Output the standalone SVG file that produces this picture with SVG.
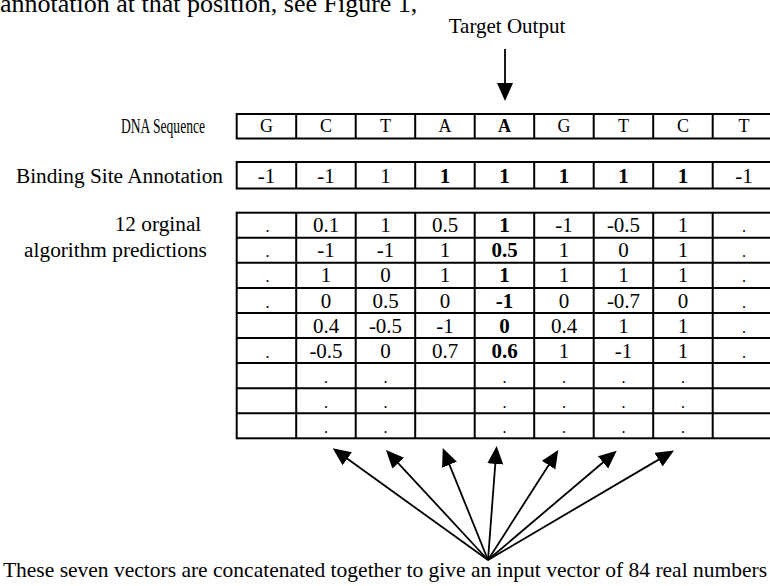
<svg xmlns="http://www.w3.org/2000/svg" width="770" height="586" viewBox="0 0 770 586">
<style>
text{font-family:"Liberation Serif","Times New Roman",serif;fill:#000}
.c{font-size:21px;text-anchor:middle}
.d{font-size:18px;text-anchor:middle}
.s{font-size:16px;text-anchor:middle}
.b{font-weight:bold}
.lbl{font-size:21.3px}
.grid{fill:none;stroke:#000;stroke-width:2}
.conn{stroke:#000;stroke-width:1.8;fill:none}
</style>
<defs>
<marker id="ah" markerUnits="userSpaceOnUse" markerWidth="20" markerHeight="18" refX="8" refY="8" orient="auto">
<path d="M0,0 L18,8 L0,16 Z" fill="#000"/>
</marker>
</defs>
<rect width="770" height="586" fill="#fff"/>
<g id="intro-text"><text x="0" y="11.5" style="font-size:26px">annotation at that position, see Figure 1,</text></g>
<g id="target-label"><text x="507" y="33" class="c">Target Output</text></g>
<g id="left-labels">
<text x="163" y="133" class="lbl" text-anchor="middle" style="font-size:20px" textLength="84" lengthAdjust="spacingAndGlyphs">DNA Sequence</text>
<text x="223" y="183" class="lbl" text-anchor="end">Binding Site Annotation</text>
<text x="158" y="231" class="lbl" text-anchor="middle">12 orginal</text>
<text x="115.5" y="256.5" class="lbl" text-anchor="middle">algorithm predictions</text>
</g>
<g id="dna-row">
<rect class="grid" x="236.7" y="114" width="536" height="24.5"/>
<path class="grid" d="M296.2,114V138.5M355.7,114V138.5M415.2,114V138.5M474.7,114V138.5M534.2,114V138.5M593.7,114V138.5M653.2,114V138.5M712.7,114V138.5"/>
<g class="d">
<text x="266.5" y="132">G</text><text x="326" y="132">C</text><text x="385.5" y="132">T</text><text x="445" y="132">A</text><text x="504.5" y="132" class="b">A</text><text x="564" y="132">G</text><text x="623.5" y="132">T</text><text x="683" y="132">C</text><text x="744" y="132">T</text>
</g>
</g>
<g id="binding-row">
<rect class="grid" x="236.7" y="162" width="536" height="26.5"/>
<path class="grid" d="M296.2,162V188.5M355.7,162V188.5M415.2,162V188.5M474.7,162V188.5M534.2,162V188.5M593.7,162V188.5M653.2,162V188.5M712.7,162V188.5"/>
<g class="c">
<text x="266.5" y="183">-1</text><text x="326" y="183">-1</text><text x="385.5" y="183">1</text><text x="445" y="183" class="b">1</text><text x="504.5" y="183" class="b">1</text><text x="564" y="183" class="b">1</text><text x="623.5" y="183" class="b">1</text><text x="683" y="183" class="b">1</text><text x="744" y="183">-1</text>
</g>
</g>
<g id="predictions-table">
<rect class="grid" x="236.7" y="212.7" width="536" height="225.6"/>
<path class="grid" d="M296.2,212.7V438.3M355.7,212.7V438.3M415.2,212.7V438.3M474.7,212.7V438.3M534.2,212.7V438.3M593.7,212.7V438.3M653.2,212.7V438.3M712.7,212.7V438.3"/>
<path class="grid" d="M236.7,237.8H773M236.7,262.8H773M236.7,287.9H773M236.7,313H773M236.7,338.1H773M236.7,363.1H773M236.7,388.2H773M236.7,413.3H773"/>
<g class="c">
<text x="326" y="232.2">0.1</text><text x="385.5" y="232.2">1</text><text x="445" y="232.2">0.5</text><text x="504.5" y="232.2" class="b">1</text><text x="564" y="232.2">-1</text><text x="623.5" y="232.2">-0.5</text><text x="683" y="232.2">1</text>
<text x="326" y="257.3">-1</text><text x="385.5" y="257.3">-1</text><text x="445" y="257.3">1</text><text x="504.5" y="257.3" class="b">0.5</text><text x="564" y="257.3">1</text><text x="623.5" y="257.3">0</text><text x="683" y="257.3">1</text>
<text x="326" y="282.4">1</text><text x="385.5" y="282.4">0</text><text x="445" y="282.4">1</text><text x="504.5" y="282.4" class="b">1</text><text x="564" y="282.4">1</text><text x="623.5" y="282.4">1</text><text x="683" y="282.4">1</text>
<text x="326" y="307.5">0</text><text x="385.5" y="307.5">0.5</text><text x="445" y="307.5">0</text><text x="504.5" y="307.5" class="b">-1</text><text x="564" y="307.5">0</text><text x="623.5" y="307.5">-0.7</text><text x="683" y="307.5">0</text>
<text x="326" y="332.5">0.4</text><text x="385.5" y="332.5">-0.5</text><text x="445" y="332.5">-1</text><text x="504.5" y="332.5" class="b">0</text><text x="564" y="332.5">0.4</text><text x="623.5" y="332.5">1</text><text x="683" y="332.5">1</text>
<text x="326" y="357.6">-0.5</text><text x="385.5" y="357.6">0</text><text x="445" y="357.6">0.7</text><text x="504.5" y="357.6" class="b">0.6</text><text x="564" y="357.6">1</text><text x="623.5" y="357.6">-1</text><text x="683" y="357.6">1</text>
</g>
<g class="s">
<text x="267.5" y="232.2">.</text><text x="744" y="232.2">.</text>
<text x="267.5" y="257.3">.</text><text x="744" y="257.3">.</text>
<text x="267.5" y="282.4">.</text><text x="744" y="282.4">.</text>
<text x="267.5" y="307.5">.</text><text x="744" y="307.5">.</text>
<text x="744" y="332.5">.</text>
<text x="267.5" y="357.6">.</text><text x="744" y="357.6">.</text>
<text x="326" y="382.7">.</text><text x="385.5" y="382.7">.</text><text x="504.5" y="382.7">.</text><text x="564" y="382.7">.</text><text x="623.5" y="382.7">.</text><text x="683" y="382.7">.</text>
<text x="326" y="407.8">.</text><text x="385.5" y="407.8">.</text><text x="504.5" y="407.8">.</text><text x="564" y="407.8">.</text><text x="623.5" y="407.8">.</text><text x="683" y="407.8">.</text>
<text x="326" y="432.8">.</text><text x="385.5" y="432.8">.</text><text x="504.5" y="432.8">.</text><text x="564" y="432.8">.</text><text x="623.5" y="432.8">.</text><text x="683" y="432.8">.</text>
</g>
</g>
<g id="connectors">
<line class="conn" x1="505" y1="49" x2="505" y2="91" marker-end="url(#ah)"/>
<line class="conn" x1="488" y1="560" x2="340.8" y2="454.1" marker-end="url(#ah)"/>
<line class="conn" x1="488" y1="560" x2="392.8" y2="457.3" marker-end="url(#ah)"/>
<line class="conn" x1="488" y1="560" x2="446.5" y2="457.3" marker-end="url(#ah)"/>
<line class="conn" x1="488" y1="560" x2="495.9" y2="456" marker-end="url(#ah)"/>
<line class="conn" x1="488" y1="560" x2="552.9" y2="458.4" marker-end="url(#ah)"/>
<line class="conn" x1="488" y1="560" x2="609.1" y2="457.2" marker-end="url(#ah)"/>
<line class="conn" x1="488" y1="560" x2="665.4" y2="455.6" marker-end="url(#ah)"/>
</g>
<g id="caption"><text x="385" y="577" class="c" style="font-size:21.5px">These seven vectors are concatenated together to give an input vector of 84 real numbers</text></g>
</svg>
